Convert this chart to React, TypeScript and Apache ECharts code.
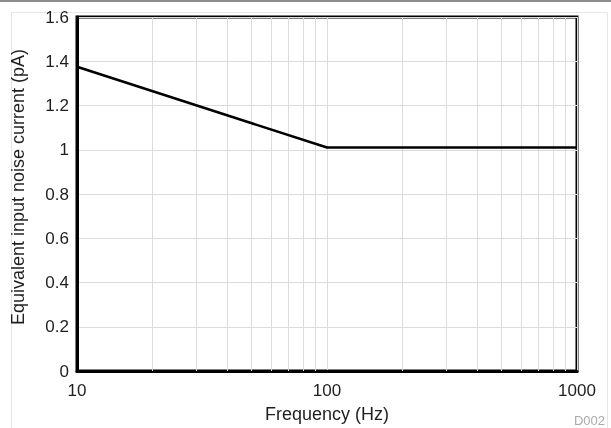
import React, { useEffect, useRef } from "react";
import * as echarts from "echarts";

const frequencies = [10, 100, 1000];
const noiseCurrent = [1.375, 1.01, 1.01];
const minorFrequencies = [20, 30, 40, 50, 60, 70, 80, 90, 200, 300, 400, 500, 600, 700, 800, 900];
const xTitle = "Frequency (Hz)";
const yTitle = "Equivalent input noise current (pA)";
const footnote = "D002";

export default function App() {
  const ref = useRef<HTMLDivElement>(null);
  useEffect(() => {
    if (!ref.current) return;
    const chart = echarts.init(ref.current, null, { renderer: "svg" });
    const font = "Liberation Sans, Arial, sans-serif";
    const txt = "#1e1e1e";
    chart.setOption({
      animation: false,
      textStyle: { fontFamily: font },
      grid: {
        left: 77,
        right: 34,
        top: 17,
        bottom: 57,
        show: true,
        borderColor: "#000",
        borderWidth: 3,
        backgroundColor: "transparent",
      },
      xAxis: {
        type: "log",
        logBase: 10,
        min: 10,
        max: 1000,
        name: xTitle,
        nameLocation: "middle",
        nameGap: 34,
        nameTextStyle: { fontSize: 18, color: txt, fontFamily: font },
        axisLine: { show: true, lineStyle: { color: "#000", width: 3 } },
        axisTick: { show: false },
        axisLabel: {
          fontSize: 17,
          color: txt,
          margin: 11,
          fontFamily: font,
          formatter: (v: number) => String(Math.round(v)),
        },
        splitLine: { show: true, lineStyle: { color: "#dcdcdc", width: 1 } },
      },
      yAxis: {
        type: "value",
        min: 0,
        max: 1.6,
        interval: 0.2,
        name: yTitle,
        nameLocation: "middle",
        nameGap: 50,
        nameTextStyle: { fontSize: 18, color: txt, fontFamily: font, padding: [0, 0, 0, 14] },
        axisLine: { show: true, lineStyle: { color: "#000", width: 3 } },
        axisTick: { show: false },
        axisLabel: {
          fontSize: 17,
          color: txt,
          margin: 8,
          fontFamily: font,
          formatter: (v: number) => String(Math.round(v * 10) / 10),
        },
        splitLine: { show: true, lineStyle: { color: "#dcdcdc", width: 1 } },
      },
      series: [
        {
          type: "line",
          data: frequencies.map((f, i) => [f, noiseCurrent[i]]),
          showSymbol: false,
          symbol: "none",
          lineStyle: { color: "#000", width: 2.5 },
          z: 5,
          markLine: {
            silent: true,
            symbol: "none",
            label: { show: false },
            lineStyle: { color: "#dcdcdc", width: 1, type: "solid" },
            z: 1,
            data: minorFrequencies.map((f) => ({ xAxis: f })),
          },
        },
      ],
      graphic: [
        {
          type: "rect",
          left: 0,
          top: 0,
          shape: { width: 611, height: 2 },
          style: { fill: "#8c8c8c" },
          silent: true,
        },
        {
          type: "rect",
          left: 9,
          top: 10,
          shape: { width: 596, height: 417 },
          style: { fill: "none", stroke: "#e6e6e6", lineWidth: 1 },
          silent: true,
          z: -1,
        },
        {
          type: "text",
          right: 6,
          top: 414,
          style: { text: footnote, fill: "#aaa", fontSize: 13, fontFamily: font },
          silent: true,
        },
      ],
    });
    return () => chart.dispose();
  }, []);
  return (
    <div
      ref={ref}
      style={{ position: "fixed", left: 0, top: 0, width: 611, height: 428 }}
    />
  );
}
